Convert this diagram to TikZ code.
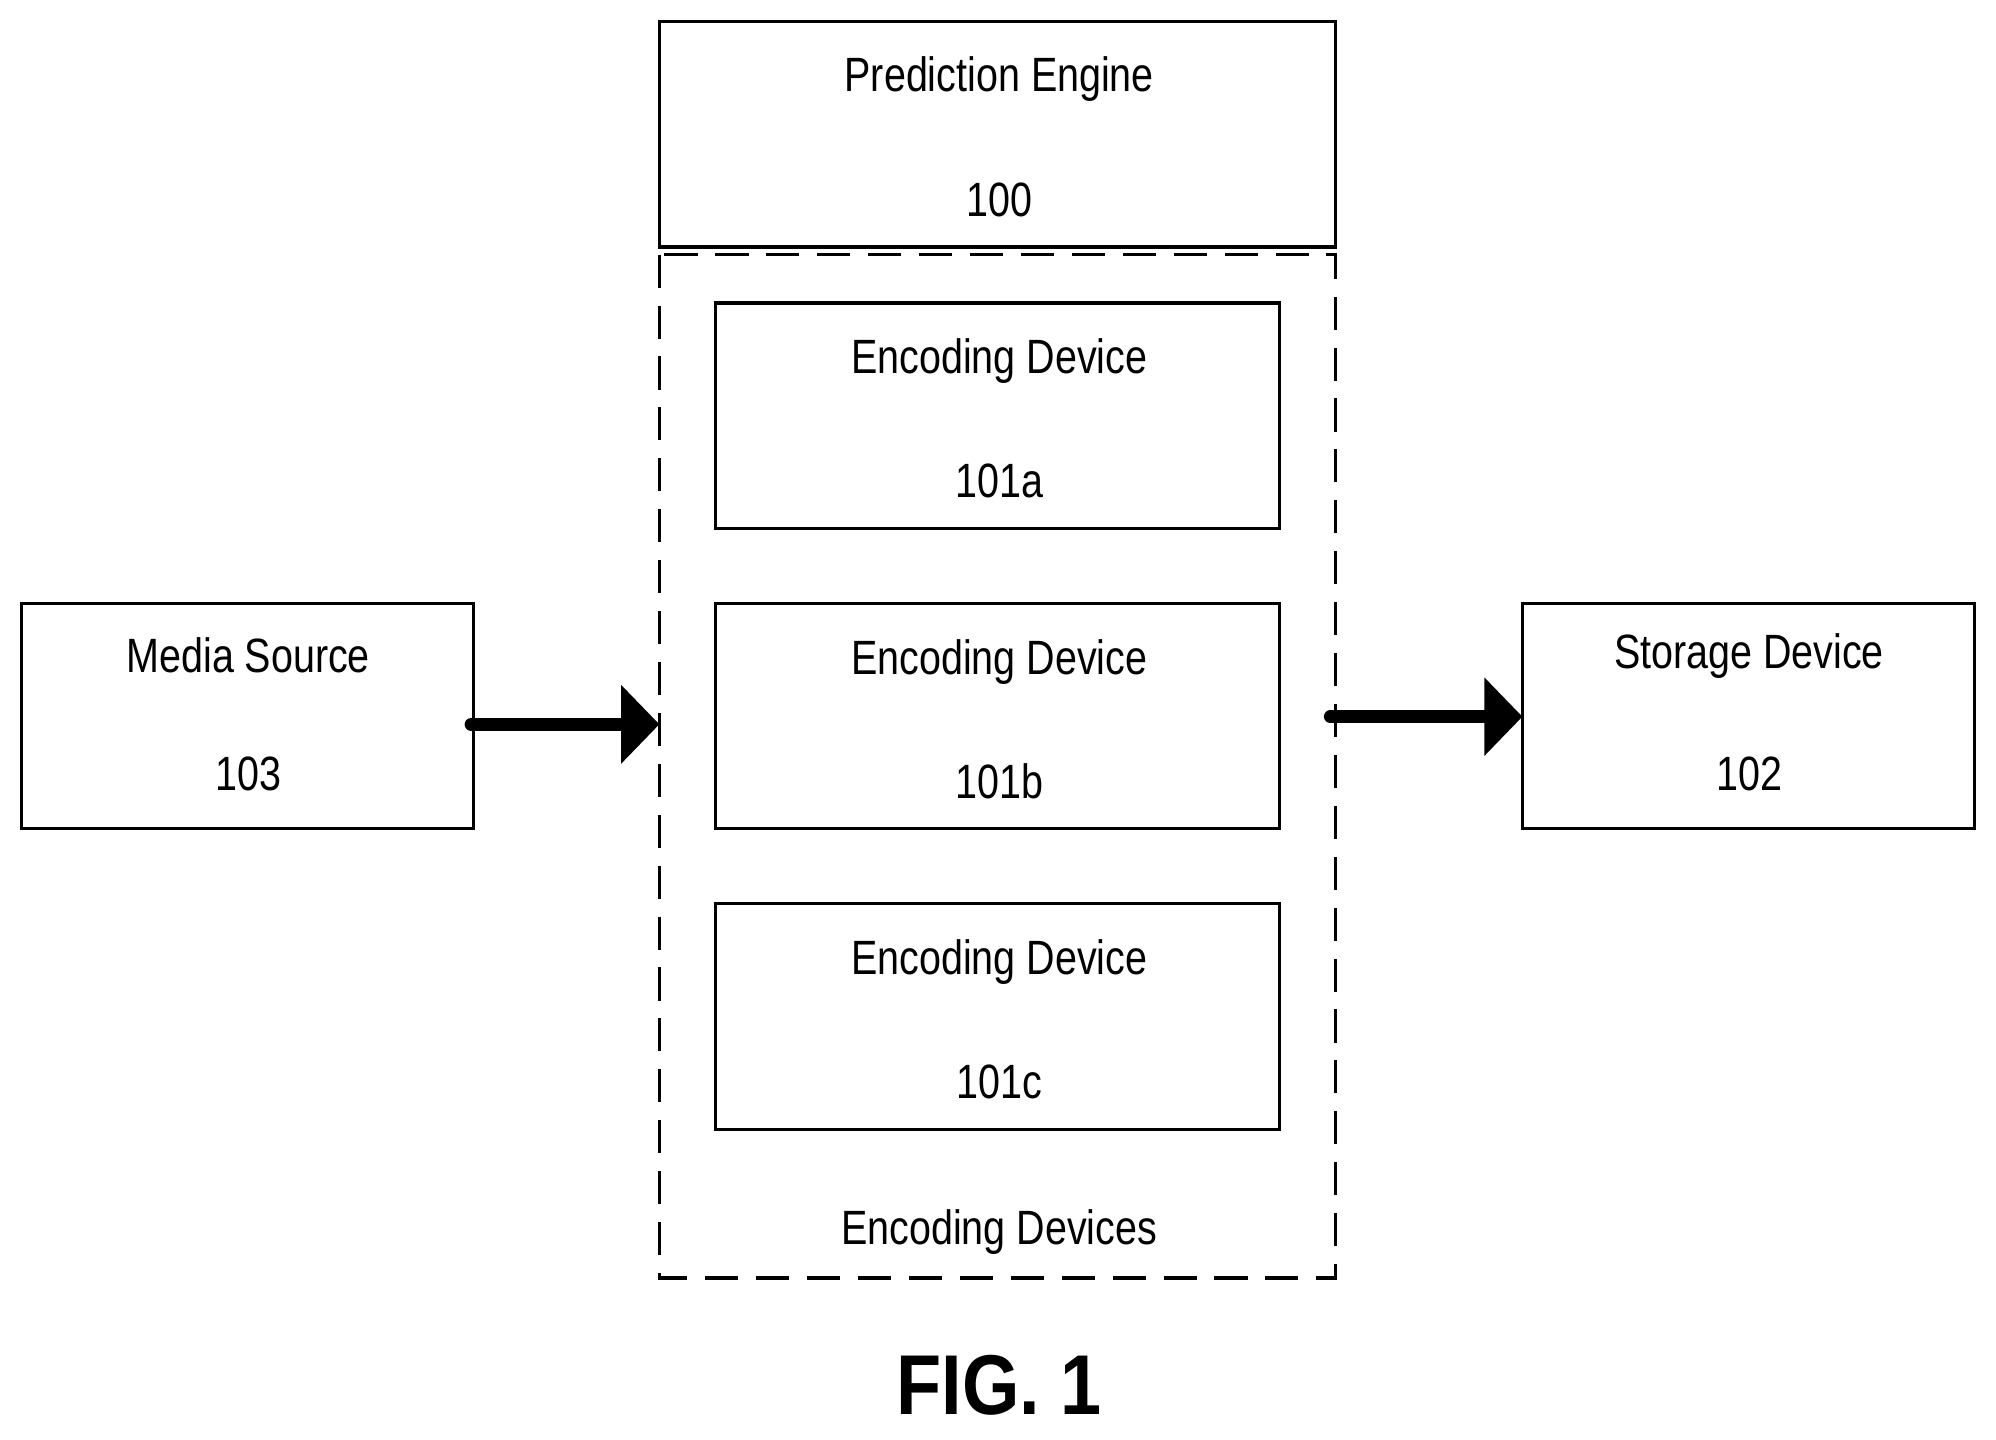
\documentclass[tikz,border=0pt]{standalone}
\usepackage{fontspec}
\setmainfont{Liberation Sans}
\usetikzlibrary{arrows.meta}
\newcommand{\tx}[1]{\scalebox{1}[1.22]{#1}}
\begin{document}
\begin{tikzpicture}[x=1pt,y=-1pt,
  box/.style={draw,line width=2.5pt},
  lab/.style={font=\fontsize{31}{31}\selectfont,anchor=center},
  arr/.style={line width=10pt,line cap=round,-{Triangle[length=30pt,width=60pt]}}]
\useasboundingbox (0,0) rectangle (1568,1131);
\draw[box] (518,17) rectangle (1049,194);
\node[lab] (pe) at (785,62) {\tx{Prediction Engine}};
\node[lab] (pen) at (785,157) {\tx{100}};
\draw[line width=2.5pt,dash pattern=on 26pt off 14pt] (518,200) rectangle (1049,1004);
\coordinate (dl) at (518,569);
\coordinate (dr) at (1045,563);
\node[lab] (ed) at (785,968) {\tx{Encoding Devices}};
\foreach \y/\s in {238/a,474/b,710/c}{
  \draw[box] (562,\y) rectangle (1005,\y+177);
  \node[lab] (e\s) at (785,\y+46) {\tx{Encoding Device}};
  \node[lab] (n\s) at (785,\y+140) {\tx{101\s}};
}
\draw[box] (17,474) rectangle (372,651);
\node[lab] (ms) at (195,515) {\tx{Media Source}};
\node[lab] (msn) at (195,608) {\tx{103}};
\coordinate (msr) at (370,569);
\draw[box] (1196,474) rectangle (1551,651);
\node[lab] (sd) at (1374,515) {\tx{Storage Device}};
\node[lab] (sdn) at (1374,608) {\tx{102}};
\coordinate (sdl) at (1196,563);
\draw[arr] (msr) -- (dl);
\draw[arr] (dr) -- (sdl);
\node[font=\bfseries\fontsize{58}{58}\selectfont] (fig) at (785,1088) {\scalebox{1}[1.15]{FIG. 1}};
\end{tikzpicture}
\end{document}
